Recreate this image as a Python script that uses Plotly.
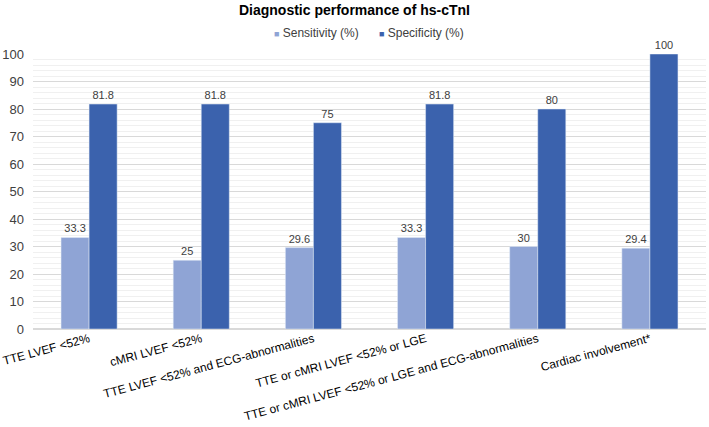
import plotly.graph_objects as go

categories = ["TTE LVEF <52%", "cMRI LVEF <52%", "TTE LVEF <52% and ECG-abnormalities",
              "TTE or cMRI LVEF <52% or LGE", "TTE or cMRI LVEF <52% or LGE and ECG-abnormalities",
              "Cardiac involvement*"]
sensitivity = [33.3, 25, 29.6, 33.3, 30, 29.4]
specificity = [81.8, 81.8, 75, 81.8, 80, 100]
series_names = ["Sensitivity (%)", "Specificity (%)"]
series_colors = ["#8FA4D5", "#3B62AD"]

font_family = "Liberation Sans, Arial, sans-serif"

W, H = 709, 427
ML, MR, MT, MB = 33, 3, 54, 98
plot_w = W - ML - MR
plot_h = H - MT - MB

fig = go.Figure()
for name, vals, col in zip(series_names, [sensitivity, specificity], series_colors):
    fig.add_trace(go.Bar(x=categories, y=vals, name=name,
                         marker_color=col, text=vals, texttemplate="%{y}",
                         textposition="outside", cliponaxis=False,
                         textfont=dict(size=11, color="#404040"), showlegend=False))

# legend drawn as text items
legend_left_px = [272, 377]
for name, col, px in zip(series_names, series_colors, legend_left_px):
    fig.add_annotation(text=f'<span style="color:{col};font-size:9px">■</span> {name}',
                       xref="paper", yref="paper", x=(px - ML) / plot_w, y=1 + (MT - 33) / plot_h,
                       xanchor="left", yanchor="middle", showarrow=False,
                       font=dict(size=12, color="#404040", family=font_family))

fig.update_layout(
    width=W, height=H,
    margin=dict(l=ML, r=MR, t=MT, b=MB, autoexpand=False),
    paper_bgcolor="white", plot_bgcolor="white",
    font=dict(family=font_family, color="#404040", size=12),
    title=dict(text="<b>Diagnostic performance of hs-cTnI</b>", x=0.5, xanchor="center",
               y=1 - 10 / H, yanchor="middle", yref="container",
               font=dict(size=14, color="#000000")),
    barmode="group", bargap=0.5, bargroupgap=0,
)
fig.update_yaxes(range=[0, 100], dtick=10, showgrid=True, gridcolor="#D9D9D9", gridwidth=1,
                 minor=dict(dtick=2, showgrid=True, gridcolor="#F0F0F0", gridwidth=1),
                 zeroline=True, zerolinecolor="#D9D9D9", tickfont=dict(size=13, color="#404040"),
                 ticks="", ticklabelstandoff=8, automargin=False)
fig.update_xaxes(tickangle=-15, tickfont=dict(size=12, color="#000000"), showline=False, ticks="",
                 automargin=False)

fig.write_html("out.html", config={"displayModeBar": False},
               post_script="document.body.style.margin='0';")
